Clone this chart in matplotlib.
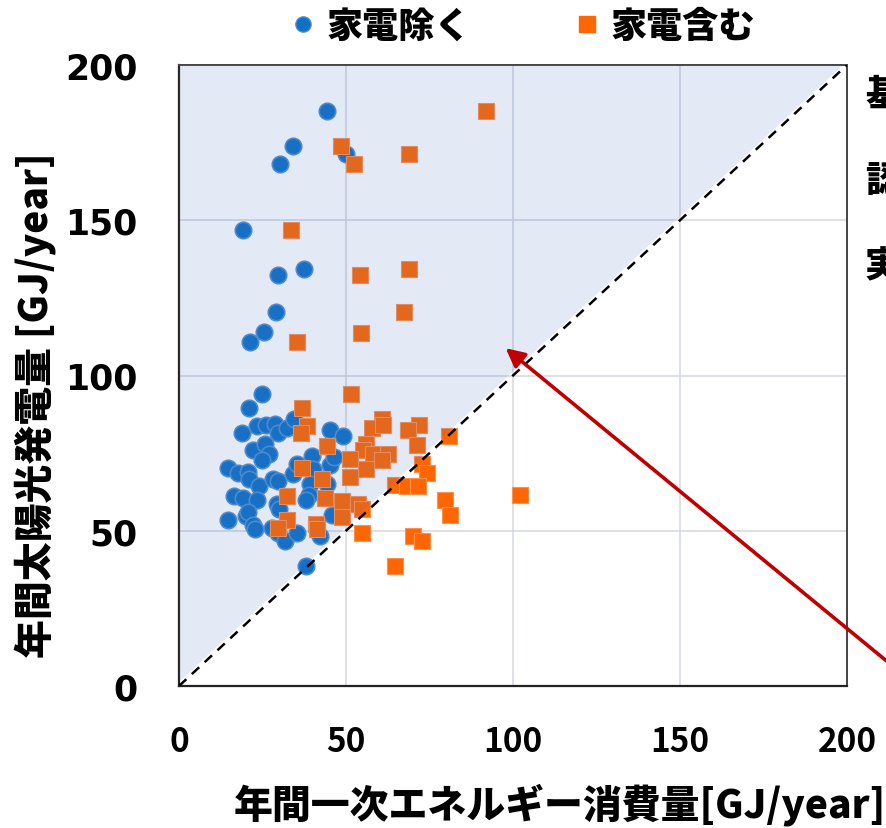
import matplotlib
matplotlib.use("Agg")
import matplotlib.pyplot as plt
from matplotlib.lines import Line2D
from matplotlib.patches import Polygon

# ---- data ----
blue_x = [44.4, 34.2, 30.1, 49.9, 19.2, 29.5, 37.4, 29.0, 25.4, 21.3,
          25.0, 21.0, 18.9, 23.4, 25.9, 28.7, 29.6, 32.4, 34.5, 45.2,
          49.2, 22.3, 25.7, 27.0, 24.8, 14.8, 17.8, 20.6, 21.0, 24.0,
          28.2, 29.7, 34.0, 35.2, 39.7, 40.2, 45.2, 46.4, 39.2, 39.0,
          37.9, 44.2, 16.5, 19.3, 23.3, 29.2, 29.9, 14.8, 20.1, 20.8,
          22.2, 22.9, 27.7, 29.6, 31.7, 35.4, 42.2, 45.9, 38.0]
blue_y = [185.1, 174.0, 168.1, 171.3, 146.8, 132.4, 134.4, 120.3, 113.9, 110.9,
          94.0, 89.5, 81.5, 83.6, 84.1, 84.4, 81.5, 83.1, 86.0, 82.4,
          80.6, 76.1, 77.9, 74.7, 72.9, 70.2, 68.5, 68.8, 66.7, 64.5,
          66.7, 65.9, 68.3, 71.6, 74.1, 69.9, 71.3, 73.6, 65.1, 61.5,
          59.9, 65.1, 61.3, 60.7, 59.9, 58.6, 57.0, 53.6, 54.6, 56.0,
          52.0, 50.6, 50.8, 49.4, 46.6, 49.4, 48.4, 55.2, 38.7]

orange_x = [91.9, 48.6, 52.5, 69.0, 33.5, 54.1, 68.8, 67.3, 54.6, 35.3,
            51.4, 36.7, 38.2, 36.5, 44.4, 60.7, 57.7, 61.2, 72.0, 68.7,
            80.7, 71.4, 56.1, 55.0, 58.2, 62.7, 51.2, 60.7, 72.8, 56.1,
            36.9, 74.3, 51.2, 42.7, 64.8, 68.2, 71.6, 32.4, 43.7, 48.7,
            79.6, 81.1, 102.1, 53.7, 54.7, 32.2, 41.0, 29.7, 48.7, 54.7,
            70.2, 72.7, 64.7, 41.2]
orange_y = [185.2, 174.0, 168.1, 171.3, 146.8, 132.4, 134.4, 120.3, 113.7, 110.9,
            94.0, 89.5, 83.6, 81.5, 77.4, 86.0, 83.1, 84.1, 84.1, 82.4,
            80.6, 77.5, 77.9, 76.1, 74.7, 74.7, 73.1, 72.9, 71.4, 70.0,
            70.2, 68.5, 67.2, 66.7, 64.8, 64.5, 64.5, 61.3, 60.7, 59.7,
            60.0, 55.2, 61.6, 58.6, 57.0, 53.6, 52.2, 50.8, 54.3, 49.4,
            48.4, 46.8, 38.7, 50.6]

series_labels = ["家電除く", "家電含む"]
x_ticks = [0, 50, 100, 150, 200]
y_ticks = [0, 50, 100, 150, 200]
xlabel = "年間一次エネルギー消費量[GJ/year]"
ylabel = "年間太陽光発電量 [GJ/year]"
side_texts = ["基準値", "認定値", "実測値"]

BLUE = "#1070C4"
ORANGE = "#FF6600"
CJK = ["Noto Sans CJK JP", "DejaVu Sans"]

fig = plt.figure(figsize=(8.87, 8.29), dpi=100)
ax = fig.add_axes([179/887, 1-687/829, (847-179)/887, (687-66)/829])
ax.set_xlim(0, 200)
ax.set_ylim(0, 200)

ax.set_axisbelow(True)
ax.grid(True, color="#D3D7DE", lw=1.1, zorder=0)

ax.scatter(blue_x, blue_y, s=140, marker="o", facecolor=BLUE,
           edgecolor="#4F8ED0", linewidth=1.2, zorder=2)
ax.scatter(orange_x, orange_y, s=135, marker="s", facecolor=ORANGE,
           edgecolor="#FF9050", linewidth=0.8, zorder=2)

# shaded region above the diagonal (overlay)
poly = Polygon([(0, 1.3), (0, 200), (198.7, 200)], closed=True,
               facecolor="#4472C4", alpha=0.15, edgecolor="none", zorder=3)
ax.add_patch(poly)
ax.plot([0, 200], [0, 200], color="black", lw=1.8, dashes=(4, 3), zorder=4)

ax.set_xticks(x_ticks)
ax.set_yticks(y_ticks)
ax.set_xticklabels([str(v) for v in x_ticks], family=CJK, fontweight="bold",
                   fontsize=24, fontstretch="condensed")
ax.set_yticklabels([str(v) for v in y_ticks], family="DejaVu Sans", fontweight="bold", fontsize=25)
ax.tick_params(axis="x", length=0, pad=28)
ax.tick_params(axis="y", length=0, pad=30)
for side in ["left", "bottom"]:
    ax.spines[side].set_color("#222222")
    ax.spines[side].set_linewidth(1.6)
for side in ["top", "right"]:
    ax.spines[side].set_color("#444444")
    ax.spines[side].set_linewidth(1.4)

fig.text(560/887, 1-805/829, xlabel, family=CJK, fontweight="heavy",
         fontsize=28, ha="center", va="center")
fig.text(35/887, 1-405/829, ylabel, family=CJK, fontweight="heavy",
         fontsize=28, ha="center", va="center", rotation=90)

handles = [Line2D([], [], ls="none", marker="o", markersize=11, markerfacecolor=BLUE,
                  markeredgecolor="#4F8ED0"),
           Line2D([], [], ls="none", marker="s", markersize=11, markerfacecolor=ORANGE,
                  markeredgecolor=ORANGE)]
fig.legend(handles, series_labels, loc="center", bbox_to_anchor=(520/887, 1-27/829),
           ncol=2, frameon=False, prop=dict(family=CJK, weight="heavy", size=26),
           handletextpad=0.15, columnspacing=2.7, handlelength=1.0)

for i, t in enumerate(side_texts):
    fig.text(865/887, 1-(95 + 85*i)/829, t, family=CJK, fontweight="heavy",
             fontsize=26, ha="left", va="center")

ax.annotate("", xy=(97.8, 108.8), xycoords="data",
            xytext=(900/887, 1-673/829), textcoords="figure fraction",
            arrowprops=dict(arrowstyle="-|>", color="#C00000", lw=2.6,
                            mutation_scale=28, shrinkA=0, shrinkB=0),
            annotation_clip=False, zorder=6)

fig.savefig("out.png", dpi=100)
